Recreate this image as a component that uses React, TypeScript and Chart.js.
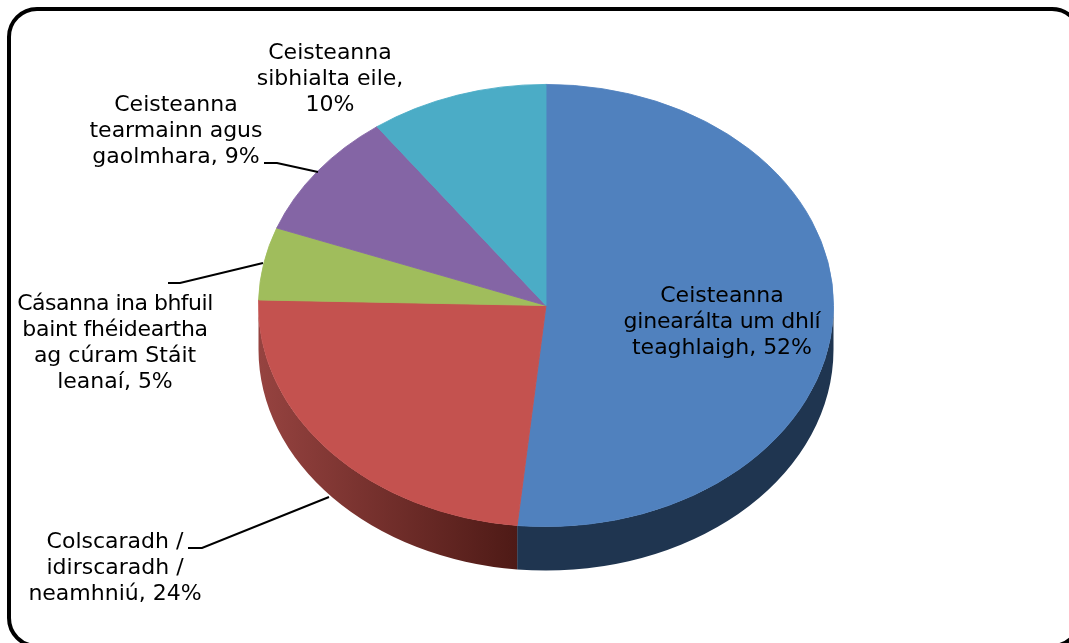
import React, { useEffect, useRef } from "react";
import { Chart, registerables } from "chart.js";

Chart.register(...registerables);

const categories = [
  "Ceisteanna ginearálta um dhlí teaghlaigh",
  "Colscaradh / idirscaradh / neamhniú",
  "Cásanna ina bhfuil baint fhéideartha ag cúram Stáit leanaí",
  "Ceisteanna tearmainn agus gaolmhara",
  "Ceisteanna sibhialta eile",
];
const sliceValues = [51.6, 23.8, 5.3, 9.3, 10.0];
const sliceColors = ["#5081BE", "#C4524F", "#A0BD5C", "#8465A5", "#4BACC6"];

const labelLines = [
  ["Ceisteanna", "ginearálta um dhlí", "teaghlaigh, 52%"],
  ["Colscaradh /", "idirscaradh /", "neamhniú, 24%"],
  ["Cásanna ina bhfuil", "baint fhéideartha", "ag cúram Stáit", "leanaí, 5%"],
  ["Ceisteanna", "tearmainn agus", "gaolmhara, 9%"],
  ["Ceisteanna", "sibhialta eile,", "10%"],
];
const labelAnchors = [
  [722, 302],
  [115, 548],
  [115, 310],
  [176, 111],
  [330, 59],
];
const leaders = [
  [[188, 548], [202, 548], [329, 497]],
  [[168, 283], [180, 283], [263, 263]],
  [[264, 163], [277, 163], [318, 172]],
];
const tightLines: Record<string, string> = {
  "Cásanna ina bhfuil": "-0.5px",
  "ginearálta um dhlí": "-0.25px",
  "baint fhéideartha": "-0.3px",
};

const SQUASH = 0.769;
const DEPTH = 44;
const FONT = '22px "DejaVu Sans"';
const LINE_H = 26;

const piePlugin = {
  id: "pie3d",
  beforeDraw(chart: any) {
    const { ctx, width, height } = chart;
    ctx.save();
    ctx.fillStyle = "#FFFFFF";
    ctx.fillRect(0, 0, width, height);
    ctx.lineWidth = 4;
    ctx.strokeStyle = "#000000";
    ctx.beginPath();
    ctx.roundRect(9, 9, 1071, 637, 28);
    ctx.stroke();
    ctx.restore();
  },
  beforeDatasetsDraw(chart: any) {
    const { ctx } = chart;
    const arcs = chart.getDatasetMeta(0).data;
    const { x: cx, y: cy, outerRadius: r } = arcs[0].getProps(["x", "y", "outerRadius"], true);
    ctx.save();
    ctx.translate(0, cy);
    ctx.scale(1, SQUASH);
    ctx.translate(0, -cy);

    const redSide = ctx.createLinearGradient(cx - r, 0, arcs[0].x - r * Math.sin(((sliceValues[0] / 100) * 2 - 1) * Math.PI), 0);
    redSide.addColorStop(0, "#964340");
    redSide.addColorStop(1, "#4E1A16");
    const sideFills = ["#1F3550", redSide];
    const offset = DEPTH / SQUASH;

    [0, 1].forEach((i) => {
      const a = arcs[i].getProps(["startAngle", "endAngle"], true);
      const start = Math.max(a.startAngle, 0);
      const end = Math.min(a.endAngle, Math.PI);
      ctx.beginPath();
      ctx.arc(cx, cy, r, start, end, false);
      ctx.arc(cx, cy + offset, r, end, start, true);
      ctx.closePath();
      ctx.fillStyle = sideFills[i];
      ctx.fill();
    });
  },
  afterDatasetsDraw(chart: any) {
    chart.ctx.restore();
  },
  afterDraw(chart: any) {
    const { ctx } = chart;
    ctx.save();
    ctx.strokeStyle = "#000000";
    ctx.lineWidth = 2;
    leaders.forEach((pts) => {
      ctx.beginPath();
      pts.forEach(([x, y], i) => (i ? ctx.lineTo(x, y) : ctx.moveTo(x, y)));
      ctx.stroke();
    });
    ctx.fillStyle = "#000000";
    ctx.font = FONT;
    ctx.textAlign = "center";
    ctx.textBaseline = "alphabetic";
    labelLines.forEach((lines, i) => {
      lines.forEach((line, j) => {
        ctx.letterSpacing = tightLines[line] ?? "0px";
        ctx.fillText(line, labelAnchors[i][0], labelAnchors[i][1] + j * LINE_H);
      });
    });
    ctx.restore();
  },
};

export default function App() {
  const ref = useRef<HTMLCanvasElement>(null);
  useEffect(() => {
    const chart = new Chart(ref.current!, {
      type: "pie",
      data: {
        labels: categories,
        datasets: [
          {
            data: sliceValues,
            backgroundColor: sliceColors,
            borderColor: sliceColors,
            borderWidth: 1,
            clip: false,
          } as any,
        ],
      },
      options: {
        animation: false,
        responsive: false,
        layout: { padding: { left: 258, right: 235, top: 17.5, bottom: 49.5 } },
        plugins: { legend: { display: false }, tooltip: { enabled: false }, title: { display: false } },
      },
      plugins: [piePlugin],
    });
    return () => chart.destroy();
  }, []);
  return (
    <canvas
      ref={ref}
      width={1069}
      height={643}
      style={{ position: "fixed", left: 0, top: 0, width: 1069, height: 643, display: "block" }}
    />
  );
}
